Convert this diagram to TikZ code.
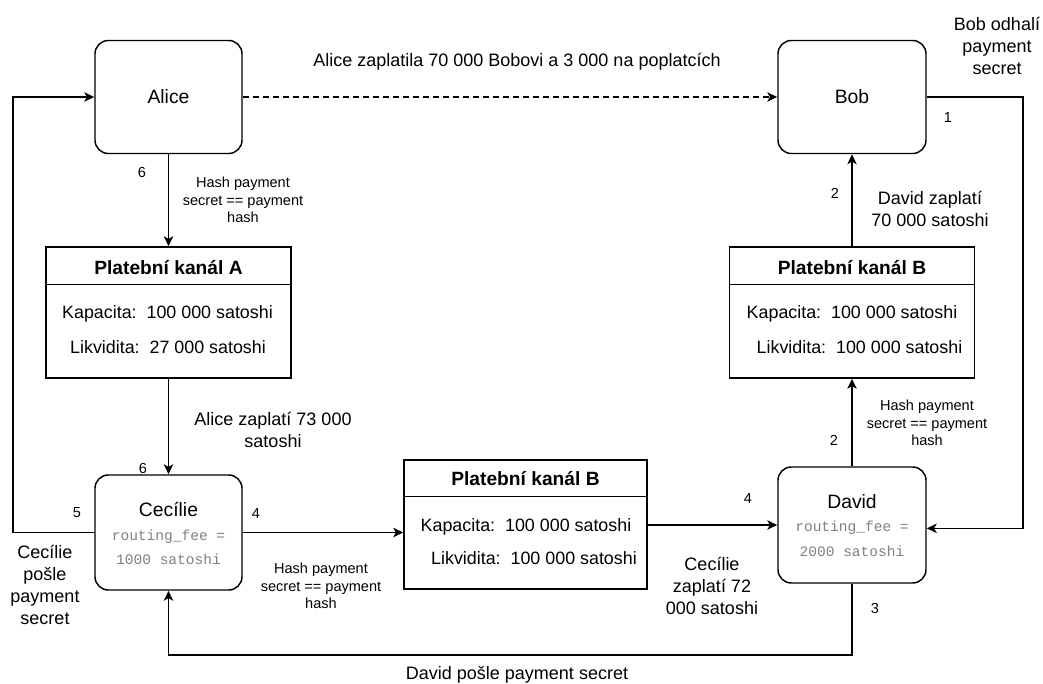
\documentclass[tikz,border=0pt]{standalone}
\usepackage{fontspec}
\setmainfont{Liberation Sans}
\setmonofont{Liberation Mono}
\usetikzlibrary{arrows.meta,calc}

\begin{document}
\begin{tikzpicture}[x=0.75pt,y=-0.75pt,
  line width=1.1pt,
  arr/.style={-{Stealth[length=7.5pt,width=7pt,inset=2pt]}},
  party/.style={draw, rounded corners=10pt, inner sep=0pt},
  chan/.style={draw, inner sep=0pt, minimum width=183.75pt, minimum height=98.25pt},
  pname/.style={font=\fontsize{14.5pt}{17pt}\selectfont, inner sep=0pt},
  ctitle/.style={font=\fontsize{14.4pt}{17pt}\selectfont\bfseries, inner sep=0pt},
  cline/.style={font=\fontsize{13.4pt}{16pt}\selectfont, inner sep=0pt},
  fee/.style={font=\fontsize{10.9pt}{13pt}\selectfont\ttfamily, text=black!50, inner sep=0pt},
  lbl/.style={font=\fontsize{13.5pt}{16.5pt}\selectfont, align=center, inner sep=0pt},
  small/.style={font=\fontsize{10.9pt}{13.2pt}\selectfont, align=center, inner sep=0pt},
]
\useasboundingbox (0,0) rectangle (1043,684);

% parties
\node[party, minimum width=110.25pt, minimum height=84.75pt] (alice) at (168.5,97) {};
\node[party, minimum width=111pt, minimum height=84.75pt] (bob) at (852,97) {};
\node[party, minimum width=110.25pt, minimum height=86.25pt] (cec) at (168.5,532.5) {};
\node[party, minimum width=111pt, minimum height=87pt] (dav) at (852,525) {};

\node[pname] (alicet) at (alice.center) {Alice};
\node[pname] (bobt) at (bob.center) {Bob};
\node[pname] (cect) at ($(cec.center)+(0,-23)$) {Cecílie};
\node[fee] (cecf1) at ($(cec.center)+(0,4.5)$) {routing\_fee =};
\node[fee] (cecf2) at ($(cec.center)+(0,27)$) {1000 satoshi};
\node[pname] (davt) at ($(dav.center)+(0,-23)$) {David};
\node[fee] (davf1) at ($(dav.center)+(0,3)$) {routing\_fee =};
\node[fee] (davf2) at ($(dav.center)+(0,26)$) {2000 satoshi};

% payment channels
\node[chan] (chA) at (168.5,312.5) {};
\draw ([yshift=-28.5pt]chA.north west) -- ([yshift=-28.5pt]chA.north east);
\node[ctitle] (chAt) at (168.5,268) {Platební kanál A};
\node[cline] (chAk) at (167.5,314) {Kapacita:\ \ 100 000 satoshi};
\node[cline] (chAl) at (168,347) {Likvidita:\ \ 27 000 satoshi};

\node[chan] (chBr) at (852,312.5) {};
\draw ([yshift=-28.5pt]chBr.north west) -- ([yshift=-28.5pt]chBr.north east);
\node[ctitle] (chBrt) at (852,268) {Platební kanál B};
\node[cline] (chBrk) at (852,314) {Kapacita:\ \ 100 000 satoshi};
\node[cline] (chBrl) at (859.5,347) {Likvidita:\ \ 100 000 satoshi};

\node[chan, minimum width=182.25pt, minimum height=96.75pt] (chBm) at (525.5,524.5) {};
\draw ([yshift=-27.75pt]chBm.north west) -- ([yshift=-27.75pt]chBm.north east);
\node[ctitle] (chBmt) at (525.5,479) {Platební kanál B};
\node[cline] (chBmk) at (526,527) {Kapacita:\ \ 100 000 satoshi};
\node[cline] (chBml) at (534,558) {Likvidita:\ \ 100 000 satoshi};

% turning points of the return paths
\coordinate (rturn) at (1023,97);
\coordinate (lturn) at (13,97);
\coordinate (bturn) at (852,655);

% connectors
\draw[arr, dash pattern=on 4.5pt off 3pt] (alice.east) -- (bob.west);
\draw[arr] (alice.south) -- (chA.north);
\draw[arr] (chA.south) -- (cec.north);
\draw[arr] (cec.east) -- (cec.east -| chBm.west);
\draw[arr] (chBm.east |- dav.west) -- (dav.west);
\draw[arr] (dav.north) -- (chBr.south);
\draw[arr] (chBr.north) -- (bob.south);
\draw[arr] (bob.east) -- (rturn) |- ([yshift=-2.5pt]dav.east);
\draw[arr] (cec.west) -- (cec.west -| lturn) -- (lturn) -- (alice.west);
\draw[arr] (dav.south) -- (bturn) -| (cec.south);

% labels
\node[lbl] (lAB) at (517,62) {Alice zaplatila 70 000 Bobovi a 3 000 na poplatcích};
\node[small] (n6a) at (142,172) {6};
\node[small] (hA) at (243,200) {Hash payment\\secret == payment\\hash};
\node[lbl] (pA) at (273,430) {Alice zaplatí 73 000\\satoshi};
\node[small] (n6b) at (143,468) {6};
\node[small] (n5) at (77,513) {5};
\node[small] (n4a) at (256,513) {4};
\node[lbl] (sC) at (45,585) {Cecílie\\pošle\\payment\\secret};
\node[small] (hC) at (321,586) {Hash payment\\secret == payment\\hash};
\node[lbl] (pC) at (712,586) {Cecílie\\zaplatí 72\\000 satoshi};
\node[small] (n4b) at (748,498) {4};
\node[small] (n3) at (875,608) {3};
\node[lbl] (sD) at (517,675) {David pošle payment secret};
\node[small] (n2a) at (834,440) {2};
\node[small] (hD) at (927,423) {Hash payment\\secret == payment\\hash};
\node[small] (n2b) at (835,193) {2};
\node[lbl] (pD) at (930,209) {David zaplatí\\70 000 satoshi};
\node[small] (n1) at (948,118) {1};
\node[lbl] (sB) at (997,46) {Bob odhalí\\payment\\secret};
\end{tikzpicture}
\end{document}
